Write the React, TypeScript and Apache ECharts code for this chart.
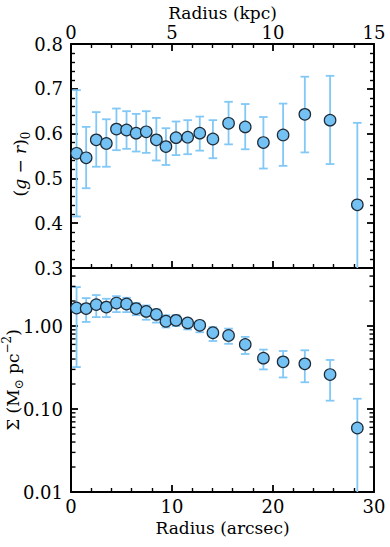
import React, { useEffect, useRef } from "react";
import * as echarts from "echarts";

// Radius of each annulus (arcsec)
const radiusArcsec = [0.55, 1.5, 2.5, 3.5, 4.5, 5.5, 6.45, 7.45, 8.45, 9.4, 10.4, 11.55, 12.75, 14.05, 15.6, 17.25, 19.05, 21.0, 23.15, 25.65, 28.35];

// (g - r)_0 colour profile
const colorGR = [0.556, 0.546, 0.586, 0.578, 0.61, 0.608, 0.601, 0.604, 0.586, 0.571, 0.591, 0.592, 0.601, 0.588, 0.623, 0.615, 0.58, 0.597, 0.643, 0.63, 0.441];
const colorGRHigh = [0.697, 0.615, 0.648, 0.632, 0.656, 0.65, 0.644, 0.65, 0.635, 0.612, 0.627, 0.63, 0.638, 0.63, 0.671, 0.666, 0.637, 0.667, 0.727, 0.729, 0.624];
const colorGRLow = [0.415, 0.478, 0.526, 0.526, 0.563, 0.566, 0.56, 0.557, 0.54, 0.53, 0.552, 0.554, 0.562, 0.545, 0.576, 0.565, 0.522, 0.528, 0.558, 0.532, 0.25];

// Stellar mass surface density (Msun pc^-2)
const sigma = [1.65, 1.62, 1.81, 1.69, 1.89, 1.84, 1.62, 1.5, 1.38, 1.14, 1.17, 1.09, 1.02, 0.83, 0.77, 0.6, 0.41, 0.37, 0.35, 0.26, 0.059];
const sigmaHigh = [2.94, 2.17, 2.36, 2.13, 2.29, 2.19, 1.89, 1.77, 1.59, 1.35, 1.35, 1.23, 1.15, 0.97, 0.93, 0.74, 0.52, 0.5, 0.51, 0.39, 0.133];
const sigmaLow = [0.32, 1.12, 1.28, 1.28, 1.47, 1.47, 1.35, 1.19, 1.1, 0.96, 1.0, 0.91, 0.84, 0.66, 0.61, 0.46, 0.3, 0.24, 0.21, 0.126, 0.005];

// Log-axis minor tick values
const sigmaMinorTicks = [0.02, 0.03, 0.04, 0.05, 0.06, 0.07, 0.08, 0.09, 0.2, 0.3, 0.4, 0.5, 0.6, 0.7, 0.8, 0.9, 2, 3, 4];

const FONT = "DejaVu Serif";
const ERR_COLOR = "#82c8f7";
const MARKER_COLOR = "#74c1f4";
const MARKER_EDGE = "#1e2b36";
const CAP = 4.3;
const ERR_W = 1.8;

const errorRender = (params: any, api: any) => {
  const x = api.value(0);
  const lo = api.value(1);
  const hi = api.value(2);
  const pHi = api.coord([x, hi]);
  const pLo = api.coord([x, lo]);
  const cs = params.coordSys;
  const top = cs.y;
  const bottom = cs.y + cs.height;
  const px = pHi[0];
  const style = { stroke: ERR_COLOR, lineWidth: ERR_W };
  const children: any[] = [
    { type: "line", shape: { x1: px, y1: Math.max(pHi[1], top), x2: px, y2: Math.min(pLo[1], bottom) }, style },
  ];
  if (pHi[1] >= top) children.push({ type: "line", shape: { x1: px - CAP, y1: pHi[1], x2: px + CAP, y2: pHi[1] }, style });
  if (pLo[1] <= bottom) children.push({ type: "line", shape: { x1: px - CAP, y1: pLo[1], x2: px + CAP, y2: pLo[1] }, style });
  return { type: "group", children };
};

const minorTickRender = (params: any, api: any) => {
  const v = api.value(1);
  const p = api.coord([0, v]);
  const cs = params.coordSys;
  const style = { stroke: "#000", lineWidth: 1.4 };
  return {
    type: "group",
    children: [
      { type: "line", shape: { x1: cs.x, y1: p[1], x2: cs.x + 4.5, y2: p[1] }, style },
      { type: "line", shape: { x1: cs.x + cs.width - 4.5, y1: p[1], x2: cs.x + cs.width, y2: p[1] }, style },
    ],
  };
};

const axisLine = { show: true, onZero: false, lineStyle: { color: "#000", width: 2 } };
const majorTick = { show: true, inside: true, length: 7, lineStyle: { color: "#000", width: 1.8 } };
const minorTick = (n: number) => ({ show: true, splitNumber: n, length: 4, lineStyle: { color: "#000", width: 1.4 } });
const label = { fontFamily: FONT, fontSize: 18, color: "#000" };

export default function App() {
  const ref = useRef<HTMLDivElement>(null);
  useEffect(() => {
    document.body.style.margin = "0";
    if (!ref.current) return;
    const chart = echarts.init(ref.current, undefined, { renderer: "svg" });
    const grids = [
      { left: 71, top: 44, width: 303, height: 224, outerBoundsMode: "none", containLabel: false },
      { left: 71, top: 268, width: 303, height: 224, outerBoundsMode: "none", containLabel: false },
    ];
    const richName = {
      i: { fontFamily: FONT, fontSize: 17, fontStyle: "italic", lineHeight: 24 },
      n: { fontFamily: FONT, fontSize: 17, lineHeight: 24 },
      sub: { fontFamily: FONT, fontSize: 12, lineHeight: 24, verticalAlign: "bottom" },
      sup: { fontFamily: FONT, fontSize: 12, lineHeight: 24, verticalAlign: "top" },
    };
    const option: any = {
      animation: false,
      textStyle: { fontFamily: FONT },
      grid: grids,
      xAxis: [
        {
          type: "value", gridIndex: 0, position: "bottom", min: 0, max: 30, interval: 10,
          axisLine, axisTick: majorTick, minorTick: minorTick(5), axisLabel: { show: false }, splitLine: { show: false },
        },
        {
          type: "value", gridIndex: 0, position: "top", min: 0, max: 15, interval: 5,
          axisLine, axisTick: majorTick, minorTick: minorTick(5),
          axisLabel: { ...label, margin: 3 }, splitLine: { show: false },
          name: "Radius (kpc)", nameLocation: "middle", nameGap: 23, nameMoveOverlap: false,
          nameTextStyle: { fontFamily: FONT, fontSize: 17, color: "#000", fontWeight: "normal" },
        },
        {
          type: "value", gridIndex: 1, position: "bottom", min: 0, max: 30, interval: 10,
          axisLine, axisTick: majorTick, minorTick: minorTick(5),
          axisLabel: { ...label, margin: 5 }, splitLine: { show: false },
          name: "Radius (arcsec)", nameLocation: "middle", nameGap: 27, nameMoveOverlap: false,
          nameTextStyle: { fontFamily: FONT, fontSize: 17, color: "#000", fontWeight: "normal" },
        },
      ],
      yAxis: [
        {
          type: "value", gridIndex: 0, position: "left", min: 0.3, max: 0.8, interval: 0.1,
          axisLine, axisTick: majorTick, minorTick: minorTick(5), splitLine: { show: false },
          axisLabel: { ...label, margin: 8, formatter: (v: number) => v.toFixed(1) },
          name: "({i|g} {n|−} {i|r}){sub|0}", nameLocation: "middle", nameRotate: 90, nameGap: 39, nameMoveOverlap: false,
          nameTextStyle: { fontFamily: FONT, fontSize: 17, color: "#000", lineHeight: 24, padding: [0, 16, 0, 0], rich: richName },
        },
        {
          type: "value", gridIndex: 0, position: "right", min: 0.3, max: 0.8, interval: 0.1,
          axisLine, axisTick: majorTick, minorTick: minorTick(5), splitLine: { show: false },
          axisLabel: { show: false },
        },
        {
          type: "log", logBase: 10, gridIndex: 1, position: "left", min: 0.01, max: 5,
          axisLine, axisTick: majorTick, splitLine: { show: false },
          axisLabel: { ...label, margin: 8, formatter: (v: number) => (v > 1.5 ? "" : v.toFixed(2)) },
          name: "Σ (M{sub|⊙} pc{sup|−2})", nameLocation: "middle", nameRotate: 90, nameGap: 46, nameMoveOverlap: false,
          nameTextStyle: { fontFamily: FONT, fontSize: 17, color: "#000", lineHeight: 24, rich: richName },
        },
        {
          type: "log", logBase: 10, gridIndex: 1, position: "right", min: 0.01, max: 5,
          axisLine, axisTick: majorTick, splitLine: { show: false }, axisLabel: { show: false },
        },
      ],
      series: [
        {
          type: "custom", xAxisIndex: 0, yAxisIndex: 0, renderItem: errorRender, encode: { x: 0, y: [1, 2] },
          data: radiusArcsec.map((x, i) => [x, colorGRLow[i], colorGRHigh[i]]), silent: true, z: 2,
        },
        {
          type: "scatter", xAxisIndex: 0, yAxisIndex: 0, symbol: "circle", symbolSize: 11.5, z: 3,
          itemStyle: { color: MARKER_COLOR, borderColor: MARKER_EDGE, borderWidth: 1.2, opacity: 1 },
          data: radiusArcsec.map((x, i) => [x, colorGR[i]]),
        },
        {
          type: "custom", xAxisIndex: 2, yAxisIndex: 2, renderItem: errorRender, encode: { x: 0, y: [1, 2] },
          data: radiusArcsec.map((x, i) => [x, sigmaLow[i], sigmaHigh[i]]), silent: true, z: 2,
        },
        {
          type: "scatter", xAxisIndex: 2, yAxisIndex: 2, symbol: "circle", symbolSize: 11.5, z: 3,
          itemStyle: { color: MARKER_COLOR, borderColor: MARKER_EDGE, borderWidth: 1.2, opacity: 1 },
          data: radiusArcsec.map((x, i) => [x, sigma[i]]),
        },
        {
          type: "custom", xAxisIndex: 2, yAxisIndex: 2, renderItem: minorTickRender, encode: { x: 0, y: 1 },
          data: sigmaMinorTicks.map((v) => [0, v]), silent: true, z: 4,
        },
      ],
    };
    chart.setOption(option);
    return () => chart.dispose();
  }, []);
  return <div ref={ref} style={{ width: 390, height: 547 }} />;
}
